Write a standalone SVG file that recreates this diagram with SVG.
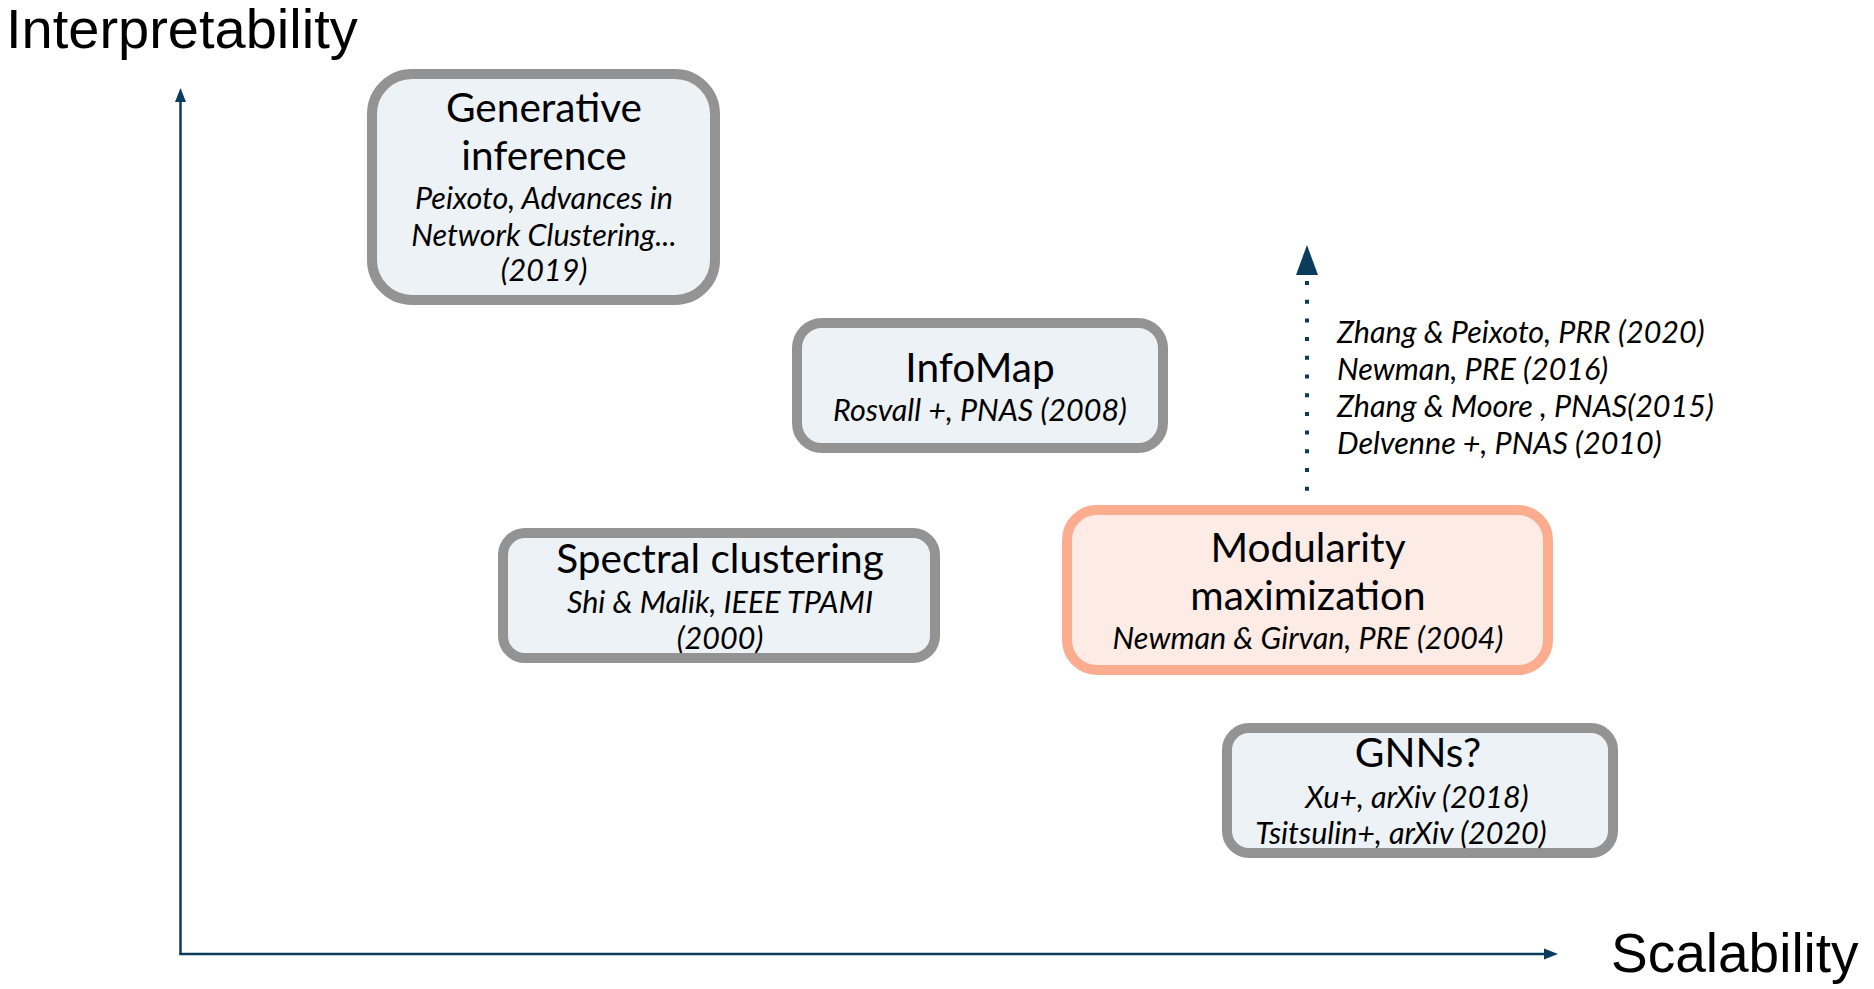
<svg xmlns="http://www.w3.org/2000/svg" width="1874" height="989" viewBox="0 0 1874 989">
<style>
.box{fill:#EDF2F7;stroke:#939393;stroke-width:10}
.hot{fill:#FDECE5;stroke:#FCAD8F;stroke-width:10}
.t{font-family:Lato,"Open Sans",sans-serif;font-size:40.6px;fill:#000;text-anchor:middle}
.s{font-family:Lato,"Open Sans",sans-serif;font-style:italic;font-size:30.5px;fill:#000;text-anchor:middle}
.r{font-family:Lato,"Open Sans",sans-serif;font-style:italic;font-size:30.5px;fill:#000}
.ax{font-family:"Liberation Sans",Arial,sans-serif;font-size:55px;fill:#000}
.axis{stroke:#0B3C5D;stroke-width:2.5;fill:none}
.arr{fill:#0B3C5D}
</style>
<rect width="1874" height="989" fill="#fff"/>
<g id="labels">
<text class="ax" x="6" y="48" style="font-size:56px">Interpretability</text>
<text class="ax" x="1611" y="972">Scalability</text>
</g>
<g id="connectors">
<line class="axis" x1="180.5" y1="955" x2="180.5" y2="100"/>
<polygon class="arr" points="180.5,88 175,102 186,102"/>
<line class="axis" x1="179.5" y1="954" x2="1546" y2="954"/>
<polygon class="arr" points="1558,954 1544,948.5 1544,959.5"/>
<line x1="1307" y1="281" x2="1307" y2="493" stroke="#0B3C5D" stroke-width="4" stroke-dasharray="4 14.7"/>
<polygon class="arr" points="1307,245 1296,275 1318,275"/>
</g>
<g id="refs">
<text class="r" x="1337" y="343">Zhang &amp; Peixoto, PRR (2020)</text>
<text class="r" x="1337" y="380">Newman, PRE (2016)</text>
<text class="r" x="1337" y="417">Zhang &amp; Moore , PNAS(2015)</text>
<text class="r" x="1337" y="454">Delvenne +, PNAS (2010)</text>
</g>
<g id="generative">
<rect class="box" x="372" y="74" width="343" height="226" rx="40"/>
<text class="t" x="544" y="122">Generative</text>
<text class="t" x="544" y="170">inference</text>
<text class="s" x="544" y="209">Peixoto, Advances in</text>
<text class="s" x="544" y="246">Network Clustering...</text>
<text class="s" x="544" y="281">(2019)</text>
</g>
<g id="infomap">
<rect class="box" x="797" y="323" width="366" height="125" rx="25"/>
<text class="t" x="980" y="382">InfoMap</text>
<text class="s" x="980" y="421">Rosvall +, PNAS (2008)</text>
</g>
<g id="spectral">
<rect class="box" x="503" y="533" width="432" height="125" rx="22"/>
<text class="t" x="720" y="573">Spectral clustering</text>
<text class="s" x="720" y="613">Shi &amp; Malik, IEEE TPAMI</text>
<text class="s" x="720" y="649">(2000)</text>
</g>
<g id="modularity">
<rect class="hot" x="1067" y="510" width="481" height="160" rx="30"/>
<text class="t" x="1308" y="562">Modularity</text>
<text class="t" x="1308" y="610">maximization</text>
<text class="s" x="1308" y="649">Newman &amp; Girvan, PRE (2004)</text>
</g>
<g id="gnns">
<rect class="box" x="1227" y="728" width="386" height="125" rx="22"/>
<text class="t" x="1418" y="767">GNNs?</text>
<text class="s" x="1417" y="808">Xu+, arXiv (2018)</text>
<text class="s" x="1401" y="844">Tsitsulin+, arXiv (2020)</text>
</g>
</svg>
